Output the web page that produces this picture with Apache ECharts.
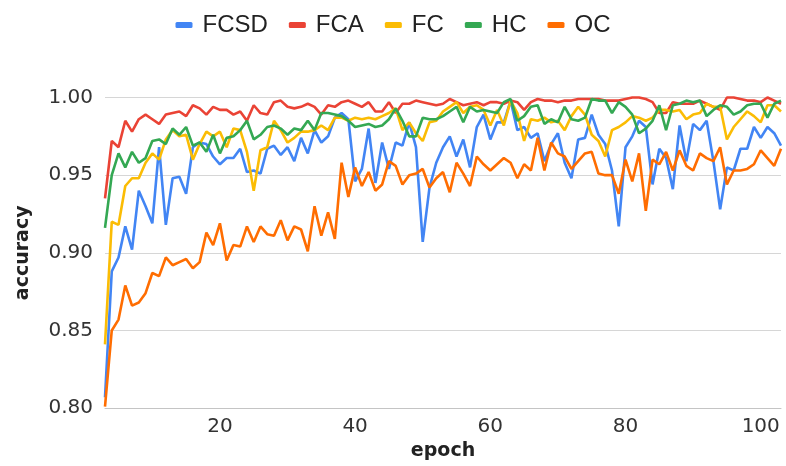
<!DOCTYPE html>
<html>
<head>
    <meta charset="utf-8"/>
    <title>accuracy</title>
    <script src="https://cdn.jsdelivr.net/npm/echarts@6/dist/echarts.min.js"></script>
    <style>
        html, body { margin: 0; padding: 0; background: #fff; }
        #chart { width: 786px; height: 466px; }
    </style>
</head>
<body>
<div id="chart"></div>
<script>
    // 数据: epoch 3 .. 103
    var firstEpoch = 3;
    var seriesNames = ['FCSD', 'FCA', 'FC', 'HC', 'OC'];
    var xTickValues = [20, 40, 60, 80, 100];

    var fcsd = [
        0.807, 0.888, 0.897, 0.917, 0.902, 0.940, 0.930, 0.919, 0.968, 0.918, 0.948, 0.949,
        0.938, 0.968, 0.971, 0.970, 0.962, 0.957, 0.961, 0.961, 0.967, 0.952, 0.953, 0.951,
        0.967, 0.969, 0.963, 0.968, 0.959, 0.974, 0.964, 0.979, 0.971, 0.975, 0.987, 0.990,
        0.986, 0.946, 0.954, 0.980, 0.945, 0.971, 0.954, 0.971, 0.969, 0.984, 0.968, 0.907, 0.942, 0.958,
        0.968, 0.975, 0.962, 0.973, 0.955, 0.981, 0.989, 0.973, 0.984, 0.984, 0.998, 0.979, 0.981, 0.974, 0.977, 0.959, 0.970, 0.977, 0.958, 0.948, 0.973, 0.974, 0.989, 0.976, 0.970,
        0.953, 0.917, 0.968, 0.975, 0.985, 0.981, 0.944, 0.967, 0.961, 0.941, 0.982, 0.959, 0.983, 0.979, 0.985, 0.959, 0.928, 0.955, 0.953, 0.967, 0.967, 0.981, 0.974, 0.981, 0.977, 0.969
    ];
    var fca = [
        0.935, 0.972, 0.968, 0.985, 0.978, 0.986, 0.989, 0.986, 0.983, 0.989, 0.990, 0.991,
        0.988, 0.995, 0.993, 0.989, 0.994, 0.992, 0.992, 0.989, 0.991, 0.985, 0.995, 0.990,
        0.989, 0.997, 0.998, 0.994, 0.993, 0.994, 0.996, 0.994, 0.989, 0.995, 0.994, 0.997,
        0.998, 0.996, 0.994, 0.997, 0.991, 0.991, 0.997, 0.990, 0.996, 0.996, 0.998, 0.997, 0.996, 0.995,
        0.996, 0.999, 0.997, 0.995, 0.996, 0.997, 0.995, 0.997, 0.997, 0.996, 0.998, 0.997, 0.992, 0.997, 0.999, 0.998, 0.998, 0.997, 0.998, 0.998, 0.999, 0.999, 0.999, 0.999, 0.998,
        0.998, 0.998, 0.999, 1.000, 1.000, 0.999, 0.997, 0.990, 0.990, 0.997, 0.996, 0.996, 0.996, 0.998, 0.996, 0.994, 0.992, 1.000, 1.000, 0.999, 0.998, 0.998, 0.997, 1.000, 0.998, 0.996
    ];
    var fc = [
        0.841, 0.920, 0.918, 0.943, 0.948, 0.948, 0.958, 0.964, 0.960, 0.973, 0.979, 0.975,
        0.976, 0.960, 0.970, 0.978, 0.975, 0.978, 0.968, 0.980, 0.979, 0.965, 0.940, 0.966,
        0.968, 0.985, 0.979, 0.971, 0.974, 0.978, 0.978, 0.979, 0.982, 0.979, 0.987, 0.987,
        0.985, 0.987, 0.986, 0.987, 0.986, 0.988, 0.990, 0.993, 0.979, 0.984, 0.977, 0.972, 0.984, 0.985,
        0.991, 0.994, 0.997, 0.990, 0.994, 0.995, 0.992, 0.982, 0.992, 0.982, 0.998, 0.990, 0.972, 0.986, 0.985, 0.987, 0.984, 0.985, 0.979, 0.988, 0.994, 0.989, 0.976, 0.972, 0.962,
        0.979, 0.981, 0.984, 0.988, 0.987, 0.985, 0.987, 0.992, 0.992, 0.991, 0.992, 0.986, 0.989, 0.990, 0.996, 0.994, 0.994, 0.973, 0.981, 0.986, 0.991, 0.988, 0.984, 0.995, 0.995, 0.991
    ];
    var hc = [
        0.916, 0.950, 0.964, 0.955, 0.965, 0.958, 0.961, 0.972, 0.973, 0.970, 0.980, 0.976,
        0.981, 0.969, 0.971, 0.965, 0.976, 0.964, 0.974, 0.975, 0.979, 0.985, 0.973, 0.976,
        0.981, 0.982, 0.980, 0.976, 0.980, 0.979, 0.985, 0.979, 0.990, 0.990, 0.989, 0.988,
        0.985, 0.981, 0.982, 0.983, 0.981, 0.982, 0.986, 0.993, 0.985, 0.975, 0.975, 0.987, 0.986, 0.986,
        0.988, 0.991, 0.994, 0.984, 0.994, 0.991, 0.992, 0.991, 0.990, 0.997, 0.999, 0.985, 0.988, 0.994, 0.995, 0.983, 0.986, 0.984, 0.994, 0.986, 0.985, 0.987, 0.999, 0.998, 0.998,
        0.990, 0.997, 0.994, 0.989, 0.977, 0.980, 0.985, 0.995, 0.979, 0.995, 0.996, 0.998, 0.997, 0.998, 0.988, 0.992, 0.995, 0.994, 0.989, 0.991, 0.995, 0.996, 0.996, 0.987, 0.996, 0.998
    ];
    var oc = [
        0.801, 0.850, 0.857, 0.879, 0.866, 0.868, 0.874, 0.887, 0.885, 0.897, 0.892, 0.894,
        0.896, 0.890, 0.894, 0.913, 0.905, 0.919, 0.895, 0.905, 0.904, 0.917, 0.907, 0.917,
        0.912, 0.911, 0.921, 0.908, 0.917, 0.915, 0.901, 0.930, 0.911, 0.926, 0.909, 0.958,
        0.936, 0.955, 0.943, 0.952, 0.940, 0.944, 0.959, 0.956, 0.944, 0.950, 0.951, 0.954, 0.942, 0.948,
        0.952, 0.939, 0.958, 0.951, 0.943, 0.962, 0.957, 0.953, 0.957, 0.961, 0.958, 0.948, 0.957, 0.953, 0.974, 0.953, 0.971, 0.964, 0.962, 0.954, 0.959, 0.964, 0.965, 0.951, 0.950,
        0.950, 0.938, 0.960, 0.946, 0.964, 0.927, 0.960, 0.957, 0.965, 0.953, 0.966, 0.956, 0.953, 0.964, 0.961, 0.959, 0.968, 0.944, 0.953, 0.953, 0.954, 0.957, 0.966, 0.961, 0.956, 0.967
    ];
    var seriesValues = [fcsd, fca, fc, hc, oc];
    var colors = ['#4285F4', '#EA4335', '#FBBC04', '#34A853', '#FF6D01'];

    function toPairs(values) {
        return values.map(function (v, i) { return [firstEpoch + i, v]; });
    }

    var myChart = echarts.init(document.getElementById('chart'));
    var option = {
        animation: false,
        color: colors,
        textStyle: {fontFamily: 'DejaVu Sans'},
        legend: {
            top: 8,
            left: 'center',
            icon: 'roundRect',
            itemWidth: 17,
            itemHeight: 6,
            itemGap: 21,
            data: seriesNames,
            textStyle: {
                fontFamily: "'Liberation Sans', Arial, sans-serif",
                fontSize: 24,
                color: '#222',
                padding: [0, 0, 0, 5]
            }
        },
        grid: {left: 105, right: 5, top: 97.5, bottom: 56},
        xAxis: {
            type: 'value',
            min: firstEpoch,
            max: firstEpoch + fcsd.length - 1,
            name: 'epoch',
            nameLocation: 'middle',
            nameGap: 25,
            nameTextStyle: {fontFamily: 'DejaVu Sans', fontWeight: 'bold', fontSize: 19, color: '#222'},
            axisLine: {show: true, lineStyle: {color: '#c4c4c4', width: 1}},
            axisTick: {show: false},
            splitLine: {show: false},
            axisLabel: {
                customValues: xTickValues,
                fontSize: 20,
                color: '#333',
                margin: 9
            }
        },
        yAxis: {
            type: 'value',
            min: 0.8,
            max: 1.0,
            interval: 0.05,
            name: 'accuracy',
            nameLocation: 'middle',
            nameGap: 72,
            nameTextStyle: {fontFamily: 'DejaVu Sans', fontWeight: 'bold', fontSize: 19, color: '#222'},
            axisLine: {show: false},
            axisTick: {show: false},
            splitLine: {lineStyle: {color: '#d6d6d6', width: 1}},
            axisLabel: {
                fontSize: 20,
                color: '#333',
                margin: 12,
                formatter: function (v) { return v.toFixed(2); }
            }
        },
        series: seriesNames.map(function (name, k) {
            return {
                name: name,
                type: 'line',
                data: toPairs(seriesValues[k]),
                showSymbol: false,
                clip: false,
                lineStyle: {width: 2.6, color: colors[k]},
                itemStyle: {color: colors[k]}
            };
        })
    };
    myChart.setOption(option);
</script>
</body>
</html>
